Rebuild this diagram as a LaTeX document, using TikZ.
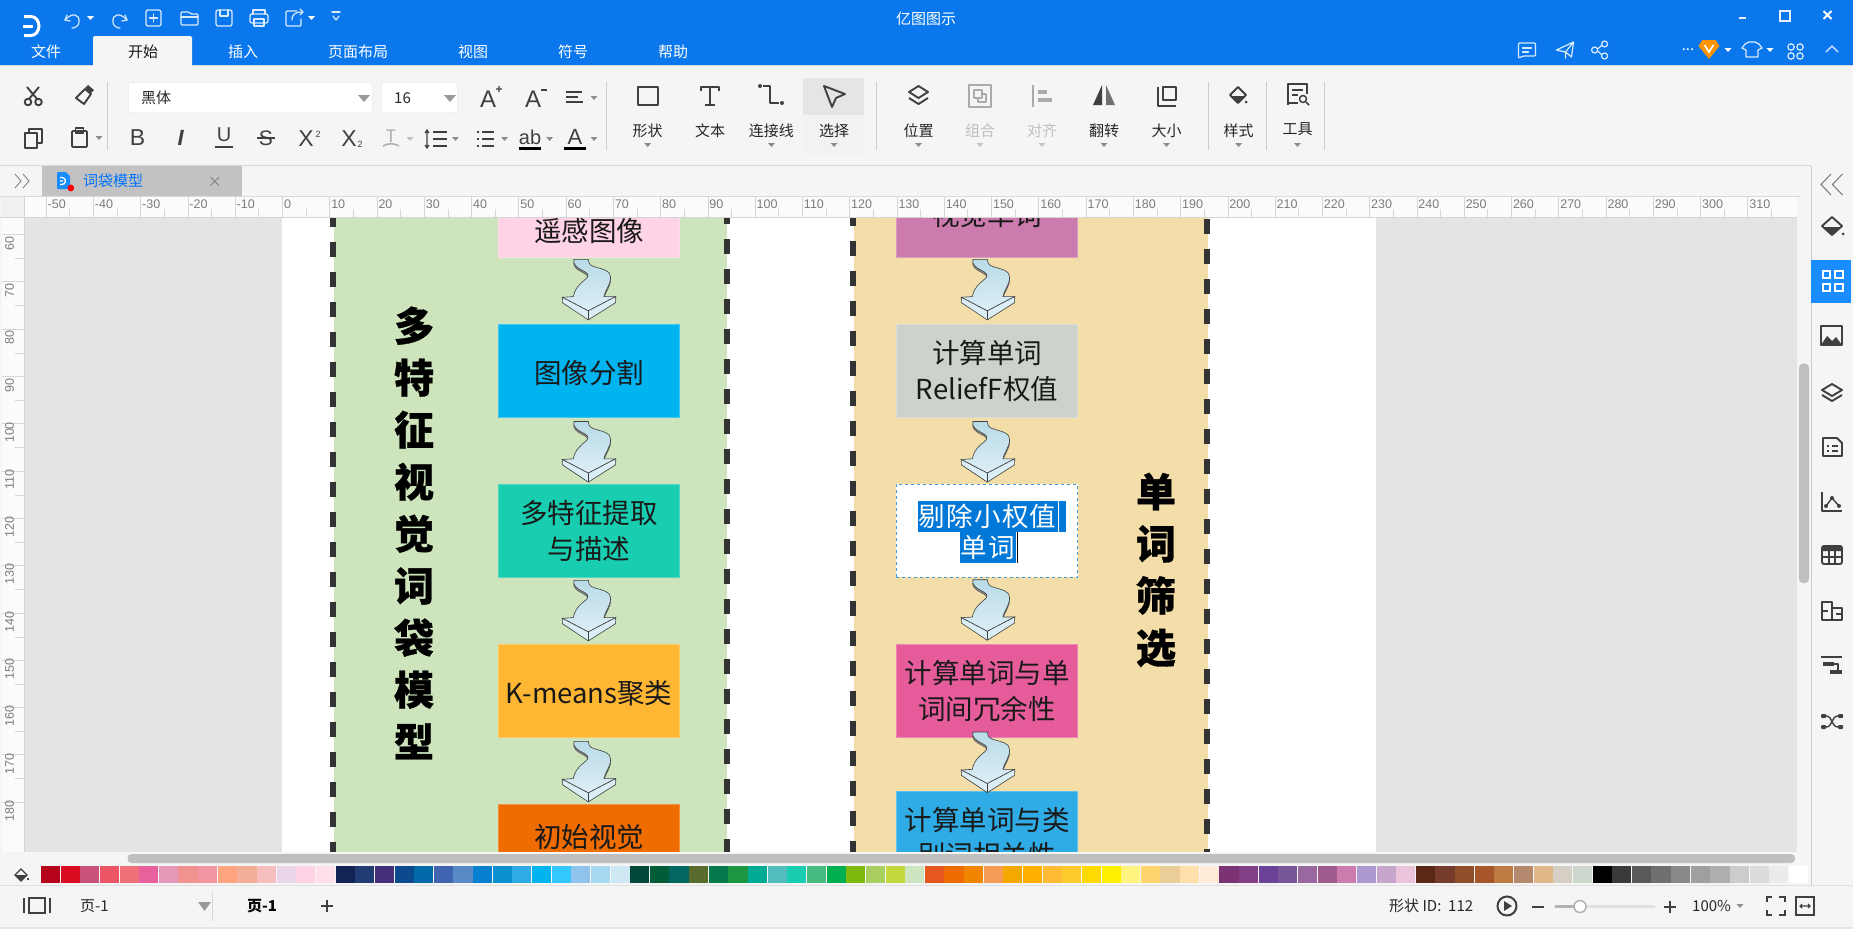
\documentclass[tikz,border=0pt]{standalone}
\usepackage{fontspec}
\usetikzlibrary{calc,shadings}
\setmainfont{Noto Sans CJK SC}
\newfontfamily\cjkspaced[LetterSpace=4.8]{Noto Sans CJK SC}
\newfontfamily\ttlfont[BoldFeatures={FakeBold=0.8}]{Noto Sans CJK SC}
\newfontfamily\uilatin{Liberation Sans}
\definecolor{blueb}{HTML}{0A78EC}
\definecolor{uibg}{HTML}{F5F5F5}
\definecolor{ico}{HTML}{404040}
\definecolor{icog}{HTML}{ABABAB}
\definecolor{rul}{HTML}{D5D5D5}
\definecolor{rulbg}{HTML}{FBFBFB}
\definecolor{rult}{HTML}{7C7C7C}
\definecolor{canvasg}{HTML}{E4E4E4}
\definecolor{bandg}{HTML}{CDE4BC}
\definecolor{bando}{HTML}{F3DEA9}
\definecolor{dashc}{HTML}{333333}
\definecolor{selblue}{HTML}{0078D7}
\definecolor{cpink}{HTML}{FFD3E6}
\definecolor{csky}{HTML}{00B4F0}
\definecolor{cteal}{HTML}{19CDB0}
\definecolor{camber}{HTML}{FFB733}
\definecolor{cdeepo}{HTML}{EF6C00}
\definecolor{cmauve}{HTML}{CC7BAE}
\definecolor{csage}{HTML}{CBD3CB}
\definecolor{crose}{HTML}{E65C9B}
\definecolor{ccyan}{HTML}{2FACE6}
\definecolor{arrtop}{HTML}{B8DBE7}
\definecolor{arrbot}{HTML}{DCEEF5}
\def\waveoutline{(-14.3,0) .. controls (-16,5) and (-11,8.5) .. (-6,11) .. controls (-2,13) and (1,15) .. (-1,18)
       .. controls (-4,22) and (-13,26) .. (-15,37.3) -- (-26,38) -- (0,51.6) -- (27.3,37.3) -- (15.6,37.3)
       .. controls (16.5,31) and (22.5,26) .. (22.3,17.3) .. controls (22,11) and (14,10) .. (8,8) .. controls (3,6.5) and (0.5,6) .. (0,0) -- cycle}
\tikzset{
  boxsty/.style={draw=#1!75!white,fill=#1,line width=.6pt,inner sep=0pt,minimum width=181.5pt,align=center,
     font=\fontsize{27.5}{35.4}\selectfont,text=black!90,execute at begin node={\rule{0pt}{26.8pt}}},
  bandline/.style={draw=dashc,line width=6pt,dash pattern=on 15pt off 15pt},
  ttl/.style={inner sep=0pt,align=center,font=\ttlfont\fontsize{40}{52}\selectfont\bfseries,text=black},
  uilbl/.style={inner sep=0pt,text=#1,font=\fontsize{15}{16}\selectfont},
  uilbl/.default=black!85,
  rtop/.style={inner sep=0pt,anchor=west,text=rult,font=\uilatin\fontsize{12.5}{13}\selectfont},
  rleft/.style={inner sep=0pt,rotate=90,text=rult,font=\uilatin\fontsize{12.5}{13}\selectfont},
  icon/.style={draw=ico,line width=1.9pt,line join=round},
  wicon/.style={draw=white!85!blueb,line width=1.2pt,line join=round,line cap=round},
  wavearrow/.pic={
    \begin{scope}[yshift=-2pt]
    \path[draw=black!70,line width=.5pt,fill=black!45] \waveoutline;
    \end{scope}
    \path[draw=black!75,line width=.6pt,top color=arrtop,bottom color=arrbot] \waveoutline;
    \path[draw=black!75,line width=.6pt,fill=arrbot] (-26,38) -- (-26,43.3) -- (0,60.6) -- (27.3,43.3) -- (27.3,37.3) -- (0,51.6) -- cycle;
    \draw[black!75,line width=.6pt] (0,51.6) -- (0,60.6);
  }
}
\newcommand{\carettri}[3][gray!90]{\fill[#1] (#2-3.5,#3-2) -- (#2+3.5,#3-2) -- (#2,#3+2) -- cycle;}
\newcount\palidx
\begin{document}
\begin{tikzpicture}[x=1pt,y=-1pt]
\useasboundingbox (0,0) rectangle (1853,929);
\fill[uibg] (0,0) rectangle (1853,929);
% canvas
\fill[canvasg] (24,217) rectangle (1797,852);
\begin{scope}
\clip (24,217) rectangle (1797,852);
\fill[white] (281.5,217) rectangle (1376,860);
\fill[bandg] (334,200) rectangle (727,860);
\fill[bando] (854,200) rectangle (1208,860);
\draw[bandline] (333.3,181.7) -- (333.3,870);
\draw[bandline] (726.7,179.3) -- (726.7,870);
\draw[bandline] (853,180.7) -- (853,870);
\draw[bandline] (1207,189) -- (1207,870);
\node[ttl] (leftttl) at (414,533) {多\\特\\征\\视\\觉\\词\\袋\\模\\型};
\node[ttl] (rightttl) at (1156,570) {单\\词\\筛\\选};
% left column
\node[boxsty={cpink},minimum height=56pt] (a1) at (589,229) {遥感图像};
\node[boxsty={csky},minimum height=93pt] (a2) at (589,371) {图像分割};
\node[boxsty={cteal},minimum height=93pt] (a3) at (589,531) {多特征提取\\与描述};
\node[boxsty={camber},minimum height=93pt] (a4) at (589,691) {K-means聚类};
\node[boxsty={cdeepo},minimum height=62pt] (a5) at (589,835.5) {初始视觉};
% right column
\node[boxsty={cmauve},minimum height=88pt] (b1) at (987,213) {视觉单词};
\node[boxsty={csage},minimum height=93pt] (b2) at (987,371) {计算单词\\ReliefF权值};
\node[draw=selblue!75!white,fill=white,dashed,line width=.8pt,inner sep=0pt,minimum width=181.5pt,minimum height=93pt] (b3) at (987,530.5) {};
\fill[selblue] (918,501) rectangle (1066,531.7);
\fill[selblue] (960,531.7) rectangle (1016,562.7);
\node[inner sep=0pt,text=white,font=\cjkspaced\fontsize{26.5}{35}\selectfont] (b3a) at (987.5,516.5) {剔除小权值};
\node[inner sep=0pt,text=white,font=\cjkspaced\fontsize{26.5}{35}\selectfont] (b3b) at (988,547.5) {单词};
\draw[white,line width=.8pt] (1058.3,501) -- (1058.3,531.7);
\draw[black,line width=.8pt] (1017.3,532) -- (1017.3,562.7);
\node[boxsty={crose},minimum height=93pt] (b4) at (987,690.8) {计算单词与单\\词间冗余性};
\node[boxsty={ccyan},minimum height=93pt] (b5) at (987,837.5) {计算单词与类\\别词相关性};
% block arrows
\pic at ($(a1.south)+(-.7,2)$) {wavearrow};
\pic at ($(a2.south)+(-.7,3.7)$) {wavearrow};
\pic at ($(a3.south)+(-.7,2.5)$) {wavearrow};
\pic at ($(a4.south)+(-.7,3.5)$) {wavearrow};
\pic at ($(b1.south)+(.3,2)$) {wavearrow};
\pic at ($(b2.south)+(.3,3.7)$) {wavearrow};
\pic at ($(b3.south)+(.3,2.3)$) {wavearrow};
\pic at ($(b4.south)+(.3,-5.6)$) {wavearrow};
\end{scope}
% ===== title bar =====
\fill[blueb] (0,0) rectangle (1853,65);
\fill[uibg,rounded corners=2pt] (93,67) -- (93,36) -- (192,36) -- (192,67) -- cycle;
\draw[black!15] (0,65.5) -- (93,65.5) (192,65.5) -- (1853,65.5);
\draw[white,line width=3pt] (24,16.5) -- (31,16.5) arc (-90:90:8 and 9.5) -- (24,35.5);
\draw[white,line width=3pt] (23,26) -- (33,26);
\node[uilbl=white] (apptitle) at (926,19) {亿图图示};
\foreach \lbl/\x in {文件/46,插入/243,页面布局/358,视图/473,符号/573,帮助/673}
  \node[uilbl=white] at (\x,52) {\lbl};
\node[uilbl=black!90] at (143,52) {开始};
% qat icons
\begin{scope}[wicon]
\draw (67,15) -- (65,20) -- (70,21); \draw (65,20) .. controls (72,12) and (80,14) .. (79,22) .. controls (79,26) and (75,28) .. (72,28);
\draw (125,15) -- (127,20) -- (122,21); \draw (127,20) .. controls (120,12) and (112,14) .. (113,22) .. controls (113,26) and (117,28) .. (120,28);
\draw[rounded corners=2pt] (146,10) rectangle (161,26); \draw (153.5,14) -- (153.5,22) (149.5,18) -- (157.5,18);
\draw[rounded corners=1pt] (181,12) -- (189,12) -- (191,14) -- (198,14) -- (198,25) -- (181,25) -- cycle; \draw (181,17) -- (198,17);
\draw[rounded corners=2pt] (216,10) rectangle (232,26); \draw (220,10) -- (220,16) -- (228,16) -- (228,10);
\draw[rounded corners=2pt] (253,14) -- (250,14) -- (250,23) -- (268,23) -- (268,14) -- cycle; \draw (253,14) -- (253,10) -- (265,10) -- (265,14); \draw (254,19) rectangle (264,26);
\draw[rounded corners=1pt] (297,11) -- (286,11) -- (286,26) -- (301,26) -- (301,19); \draw (292,20) .. controls (292,13) and (297,12) .. (303,12); \draw (300,9) -- (303,12) -- (300,15);
\draw (332,12) -- (340,12); \draw (333,16) -- (336,20) -- (339,16);
\end{scope}
\carettri[white]{90.5}{18}
\carettri[white]{311.5}{18}
% window controls
\draw[white!90!blueb,line width=2pt] (1738.5,18) -- (1745.5,18);
\draw[white!90!blueb,line width=1.4pt] (1780,11) rectangle (1790,21); \draw[white!90!blueb,line width=2pt] (1780,11) -- (1790,11);
\draw[white,line width=2pt] (1823.5,11) -- (1831.5,19) (1831.5,11) -- (1823.5,19);
% top-right icons
\begin{scope}[wicon,xshift=-3.6pt]
\draw[rounded corners=1pt] (1522,43) -- (1539,43) -- (1539,56) -- (1527,56) -- (1522,58) -- cycle; \draw (1526,48) -- (1535,48) (1526,52) -- (1532,52);
\end{scope}
\begin{scope}[wicon,xshift=-3.5pt]
\draw (1560,50) -- (1577,42) -- (1575,57) -- (1569,52) -- (1560,50) (1577,42) -- (1569,52) -- (1569,58);
\end{scope}
\begin{scope}[wicon,xshift=-4.4pt]
\draw (1599,50) circle (3); \draw (1609,44) circle (3); \draw (1609,56) circle (3); \draw (1602,49) -- (1606,45.5) (1602,51) -- (1606,54.5);
\end{scope}
\begin{scope}[wicon,xshift=-6pt]
\draw[line width=1.2pt] (1751,44) -- (1755,42) -- (1761,42) -- (1765,44) -- (1768,48) -- (1764,50) -- (1764,57) -- (1752,57) -- (1752,50) -- (1748,48) -- cycle;
\draw (1797,47) circle (3.2); \draw (1806,47) circle (3.2); \draw (1797,56) circle (3.2); \draw (1806,56) circle (3.2);
\draw (1832,52) -- (1838,46) -- (1844,52);
\end{scope}
\node[uilbl=white] at (1688,50) {...};
\begin{scope}[xshift=-5.5pt]
\fill[orange!85!yellow] (1704,46) -- (1708,40) -- (1721,40) -- (1725,46) -- (1714.5,59) -- cycle;
\draw[white,line width=1.6pt] (1710,45) -- (1714.5,52) -- (1719,45);
\end{scope}
\carettri[white]{1728}{50}
\carettri[white]{1770}{50}
% ===== ribbon =====
\draw[black!15] (0,165.5) -- (1811,165.5);
\foreach \x in {107.5,606,876,1208,1266.6,1324.4} \draw[black!20] (\x,82) -- (\x,150);
\begin{scope}[icon]
% scissors
\draw (27,87) -- (37,99) (39,87) -- (29,99); \draw (28,102) circle (3.3); \draw (38.5,102) circle (3.3);
% brush
\fill[ico] (88,85) -- (94,90) -- (91,93) -- (85,88) -- cycle; \draw (85,89) -- (91,94) -- (84,104) -- (76,98) -- cycle;
% copy
\draw (25,133) rectangle (37,148); \draw (29,133) -- (29,129) -- (42,129) -- (42,143) -- (37,143);
% paste
\draw[rounded corners=1pt] (72,131) rectangle (87,147); \draw (75.5,128) rectangle (83.5,133);
\end{scope}
\carettri{99}{138}
\node[draw=black!12,fill=white,rounded corners=2pt,minimum width=244pt,minimum height=30pt,inner sep=0pt] (fontcb) at (250.5,97.7) {};
\node[uilbl,anchor=west] (fontnm) at (141,98) {黑体};
\fill[gray!80] (358,95) -- (370,95) -- (364,102) -- cycle;
\node[draw=black!12,fill=white,rounded corners=2pt,minimum width=76pt,minimum height=30pt,inner sep=0pt] (sizecb) at (419.5,97.7) {};
\node[uilbl,anchor=west] (sizenm) at (394,98) {16};
\fill[gray!80] (444,95) -- (456,95) -- (450,102) -- cycle;
\node[inner sep=0pt,text=ico,font=\uilatin\fontsize{24}{24}\selectfont] at (488,99) {A};
\node[inner sep=0pt,text=ico,font=\uilatin\bfseries\fontsize{12}{12}\selectfont] at (499,90) {+};
\node[inner sep=0pt,text=ico,font=\uilatin\fontsize{24}{24}\selectfont] at (533,99) {A};
\draw[ico,line width=1.5pt] (541,90) -- (547,90);
\draw[ico,line width=1.9pt] (566,92) -- (582,92) (566,97) -- (578,97) (566,102) -- (583,102);
\carettri{594}{98}
% row 2
\node[inner sep=0pt,text=ico,font=\uilatin\fontsize{23}{23}\selectfont] at (137.6,138) {B};
\node[inner sep=0pt,text=ico,font=\uilatin\itshape\bfseries\fontsize{22}{22}\selectfont] at (180.7,138) {I};
\node[inner sep=0pt,text=ico,font=\uilatin\fontsize{20}{20}\selectfont] at (224,135) {U};
\draw[ico,line width=1.6pt] (215,147) -- (233,147);
\node[inner sep=0pt,text=ico,font=\uilatin\fontsize{21}{21}\selectfont] at (266,138) {S};
\draw[ico,line width=1.4pt] (257,138) -- (275,138);
\node[inner sep=0pt,text=ico,font=\uilatin\fontsize{23}{23}\selectfont] at (306,139) {X};
\node[inner sep=0pt,text=ico,font=\uilatin\fontsize{9}{9}\selectfont] at (318,134) {2};
\node[inner sep=0pt,text=ico,font=\uilatin\fontsize{23}{23}\selectfont] at (349,139) {X};
\node[inner sep=0pt,text=ico,font=\uilatin\fontsize{9}{9}\selectfont] at (360,144) {2};
\node[inner sep=0pt,text=icog,font=\fontsize{17}{17}\selectfont] at (391,136) {T};
\draw[icog,line width=1.5pt] (383,146) .. controls (388,143) and (394,143) .. (399,146);
\carettri[gray!50]{410}{139}
\draw[ico,line width=1.9pt] (433,132) -- (447,132) (433,139) -- (447,139) (433,146) -- (447,146);
\draw[ico,line width=1.2pt] (427,131) -- (427,147) (425,133) -- (427,130) -- (429,133) (425,145) -- (427,148) -- (429,145);
\carettri{455.5}{139}
\foreach \yy in {132,139,146} {\draw[ico,line width=1.9pt] (477,\yy) -- (479,\yy) (482,\yy) -- (494,\yy);}
\carettri{504.5}{139}
\node[inner sep=0pt,text=ico,font=\uilatin\fontsize{20}{20}\selectfont] at (530,137) {ab};
\fill[black] (519,146.5) rectangle (541,150);
\carettri{549.6}{139}
\node[inner sep=0pt,text=ico,font=\uilatin\fontsize{22}{22}\selectfont] at (575,137) {A};
\fill[black] (564,146.5) rectangle (586,150);
\carettri{594}{139}
% big buttons
\fill[black!10,rounded corners=2pt] (803,120) -- (803,78) -- (864,78) -- (864,120) -- cycle;
\fill[black!5,rounded corners=2pt] (803,115) -- (803,154) -- (864,154) -- (864,115) -- cycle;
\foreach \lbl/\x in {形状/647.7,文本/710,连接线/771.4,选择/834,位置/918.5,翻转/1104,大小/1166.5,样式/1238.6}
  \node[uilbl] at (\x,131) {\lbl};
\node[uilbl] at (1297.5,129) {工具};
\node[uilbl=black!25] at (980,131) {组合};
\node[uilbl=black!25] at (1042,131) {对齐};
\foreach \x in {647.7,771.4,834,918.5,1104,1166.5,1238.6,1297.5} {\carettri{\x}{145}}
\foreach \x in {980,1042} {\carettri[gray!45]{\x}{145}}
\begin{scope}[icon]
\draw (638,87) rectangle (658,105);
\draw (701,91) -- (701,87) -- (719,87) -- (719,91) (710,87) -- (710,105) (705,105) -- (715,105);
\fill[ico,draw=none] (760,86) circle (2); \fill[ico,draw=none] (782,103) circle (2);
\draw[line width=1.6pt] (763,86) -- (770,86) -- (770,103) -- (779,103);
\draw (824,86) -- (845,94) -- (836,98) -- (832,107) -- cycle;
\draw (918.5,86) -- (928,92) -- (918.5,98) -- (909,92) -- cycle; \draw (909,98) -- (918.5,104) -- (928,98);
\draw[icog,line width=1.2pt] (969,85) rectangle (991,107); \draw[icog] (974,90) rectangle (982,98); \draw[icog] (978,98) -- (978,102) -- (986,102) -- (986,94) -- (982,94);
\draw[icog,line width=2pt] (1033,85) -- (1033,107); \fill[icog,draw=none] (1038,90) rectangle (1047,94); \fill[icog,draw=none] (1038,98) rectangle (1052,102);
\fill[ico,draw=none] (1093,105) -- (1102,85) -- (1102,105) -- cycle; \fill[ico!75,draw=none] (1115,105) -- (1106,85) -- (1106,105) -- cycle;
\draw (1158,87) -- (1158,106) -- (1176,106); \draw (1163,87) rectangle (1176,100);
\draw (1238,87) -- (1246,95) -- (1238,103) -- (1230,95) -- cycle; \fill[ico,draw=none] (1231,96) -- (1238,103) -- (1245,96) -- cycle;
\draw (1288,105) -- (1288,84) -- (1307,84) -- (1307,94); \draw (1288,103) -- (1298,103); \draw[line width=1.4pt] (1292,90) -- (1303,90) (1292,95) -- (1298,95); \draw[line width=1.5pt] (1303,99) circle (3.5); \draw[line width=1.5pt] (1306,102) -- (1309,105);
\end{scope}
\fill[ico] (1246,102) circle (1.5);
% ===== tab row =====
\fill[black!24] (42,166) rectangle (241.6,196);
\draw[black!15] (0,196) -- (1800,196);
\draw[gray,line width=.9pt] (15,174) -- (21,181) -- (15,188) (23,174) -- (29,181) -- (23,188);
\fill[blue!50!cyan!90!white,rounded corners=1pt] (57,172) -- (66,172) -- (70,176) -- (70,189) -- (57,189) -- cycle;
\draw[white,line width=1.3pt] (60,177.5) -- (62,177.5) arc (-90:90:3.5) -- (60,184.5) (60,181) -- (63,181);
\fill[red] (70.8,188) circle (3.4);
\node[uilbl=blue!55!cyan,anchor=west] (doctab) at (83,181) {词袋模型};
\draw[gray,line width=.9pt] (210.5,177) -- (219,185.5) (219,177) -- (210.5,185.5);
% ===== rulers =====
\fill[rulbg] (24,197) rectangle (1797,217);
\fill[black!6] (2,197) rectangle (24,217);
\draw[rul] (0,217.3) -- (1797,217.3) (24,197) -- (24,852);
\foreach \n in {-5,...,31} {
  \pgfmathsetmacro{\xx}{282.3+47.27*\n}
  \pgfmathtruncatemacro{\lab}{\n*10}
  \draw[rul] (\xx,197) -- (\xx,217);
  \draw[rul] (\xx+23.6,209) -- (\xx+23.6,217);
  \node[rtop] at (\xx+1.5,204) {\lab};
}
\fill[rulbg] (2,217.5) rectangle (23.7,852);
\foreach \n in {6,...,18} {
  \pgfmathsetmacro{\yy}{234.3+47.3*(\n-6)}
  \pgfmathtruncatemacro{\lab}{\n*10}
  \draw[rul] (2,\yy) -- (23.7,\yy);
  \ifnum\n<18 \draw[rul] (15,\yy+24) -- (23.7,\yy+24); \fi
  \node[rleft] at (9.5,\yy+9) {\lab};
}
\fill[uibg] (0,852) rectangle (1811,866);
% scrollbars
\fill[black!25,rounded corners=4pt] (127.5,854) rectangle (1795,863);
\fill[uibg] (1797,197) rectangle (1811,852);
\fill[black!25,rounded corners=4pt] (1799,363.6) rectangle (1809,583);
% ===== palette =====
\draw[ico,line width=1.3pt] (21,869) -- (27,875) -- (21,881) -- (15,875) -- cycle; \fill[ico] (15,875) -- (21,881) -- (27,875) -- cycle; \fill[ico] (28,879) circle (1.3);
\palidx=0
\foreach \c in {B5041A,D80B20,C8527C,EC5565,F07178,E8619D,E599B8,F29290,F495A2,FFA47F,F4AD97,F7BEBE,E8D5E8,FFD3E6,FFE0EA,122456,213B73,432F7A,0B4A8E,0369A8,4064B0,5A89C8,0880D0,0A90D0,2FACE6,00B4F0,33C7FB,90C4EC,A6D9F0,CEE9F4,024838,015C37,036761,5A6B2E,04794C,1D9641,00AB94,53BDC0,19CDB0,48BC80,00AF50,80B90E,A8CF60,C2D83C,CDE5C0,E6561F,EF6C00,F28500,F59D56,F4A800,FFB000,FFBB33,FDCB2E,FFD900,FFF000,FFF480,FFD56E,EBCD97,FFDFAA,FFEBD7,7B3374,833F86,6A4398,765598,9A68A0,A15C8F,CC7BAE,AC99D0,C6A7CB,EBC4DC,5A2817,753B2B,8F4F2B,A65629,BD7B41,B4896D,E0B888,D6CFC6,CDD6CC,000000,3B3838,595959,6F6F6F,898989,9F9F9F,AFAFAF,CBCDCC,DCDCDC,EBEBEB,FFFFFF} {
  \definecolor{swatch}{HTML}{\c}
  \fill[swatch] ({41+19.64*\the\palidx},866) rectangle ({41+19.64*\the\palidx+19.1},883);
  \global\advance\palidx by 1
}
% ===== status bar =====
\draw[black!12] (0,885.5) -- (1853,885.5);
\draw[black!10,line width=1.5pt] (0,928) -- (1853,928);
\draw[ico,line width=1.8pt] (29,898) rectangle (45,913);
\draw[ico,line width=1.2pt] (24,898) -- (24,913) (50,898) -- (50,913);
\node[uilbl,anchor=west] (pg1) at (80,906) {页-1};
\fill[gray!80] (198,902) -- (211,902) -- (204.5,911) -- cycle;
\draw[black!15] (212,891) -- (212,921);
\node[uilbl=black,anchor=west,font=\fontsize{15}{16}\selectfont\bfseries] (pg2) at (247,906) {页-1};
\draw[ico,line width=2pt] (321,906) -- (333,906) (327,900) -- (327,912);
\node[uilbl,anchor=west] (shapeid) at (1389,906) {形状 ID:\ \ 112};
\draw[ico,line width=2pt] (1507,906) circle (9.5); \fill[ico] (1504,901) -- (1512,906) -- (1504,911) -- cycle;
\draw[ico,line width=2pt] (1532,906.5) -- (1544,906.5);
\draw[black!12,line width=3.5pt,line cap=round] (1556,906.5) -- (1654,906.5);
\draw[black!30,line width=3.5pt,line cap=round] (1556,906.5) -- (1580,906.5);
\draw[black!30,fill=white,line width=1.5pt] (1580,906.5) circle (6);
\draw[ico,line width=2pt] (1664,906.5) -- (1676,906.5) (1670,900.5) -- (1670,912.5);
\node[uilbl,anchor=west] (zoomv) at (1692,906) {100\%};
\carettri{1740}{906}
\draw[ico,line width=1.7pt] (1767,902) -- (1767,897) -- (1772,897) (1779,897) -- (1785,897) -- (1785,902) (1785,910) -- (1785,915) -- (1779,915) (1772,915) -- (1767,915) -- (1767,910);
\draw[ico,line width=1.7pt] (1796,897) rectangle (1814,915);
\draw[ico,line width=1.1pt] (1800,906) -- (1810,906) (1802,904) -- (1800,906) -- (1802,908) (1808,904) -- (1810,906) -- (1808,908);
% ===== right panel =====
\draw[black!20] (1810.7,166) -- (1810.7,885);
\draw[gray,line width=1.1pt] (1831,174) -- (1821,184.5) -- (1831,195) (1842.5,174) -- (1832.5,184.5) -- (1842.5,195);
\fill[blue!50!cyan!90!white] (1811,260) rectangle (1851,303);
\draw[white,line width=2pt] (1823,271) rectangle (1830,278) (1835,271) rectangle (1843,278) (1823,284) rectangle (1830,291) (1835,284) rectangle (1843,291);
\begin{scope}[icon]
\draw (1832,217) -- (1842,226) -- (1832,235) -- (1822,226) -- cycle; \fill[ico,draw=none] (1823,227) -- (1832,235) -- (1841,227) -- cycle; \fill[ico,draw=none] (1843,234) circle (1.5);
\draw (1821,326) rectangle (1842,345); \fill[ico,draw=none] (1821,345) -- (1827,336) -- (1832,341) -- (1836,337) -- (1842,345) -- cycle;
\draw (1832,384) -- (1842,390) -- (1832,396) -- (1822,390) -- cycle; \draw (1822,395) -- (1832,401) -- (1842,395);
\draw (1823,438) -- (1837,438) -- (1842,443) -- (1842,456) -- (1823,456) -- cycle; \draw[line width=1.4pt] (1827,446) -- (1829,446) (1832,446) -- (1838,446) (1827,451) -- (1829,451) (1832,451) -- (1838,451);
\draw (1822,492) -- (1822,511) -- (1842,511); \draw[line width=1.4pt] (1826,506) -- (1832,498) -- (1839,506); \fill[ico,draw=none] (1826,506) circle (2) (1832,498) circle (2) (1839,506) circle (2);
\draw[rounded corners=2pt] (1822,546) rectangle (1842,564); \fill[ico,draw=none,rounded corners=1pt] (1822,546) rectangle (1842,551); \draw[line width=1.2pt] (1822,557) -- (1842,557) (1829,551) -- (1829,564) (1835,551) -- (1835,564);
\draw (1822,602) -- (1832,602) -- (1832,608) -- (1842,608) -- (1842,620) -- (1822,620) -- cycle; \draw[line width=1.3pt] (1832,608) -- (1832,620) (1822,611) -- (1828,611) (1836,614) -- (1842,614);
\draw (1821,657) -- (1842,657); \fill[ico,draw=none] (1823,662) rectangle (1834,666); \draw[line width=1.3pt] (1834,664) -- (1838,664) -- (1838,670); \fill[ico,draw=none] (1830,670) rectangle (1842,674);
\fill[ico,draw=none,rounded corners=1pt] (1821,714) rectangle (1826,718) (1821,725) rectangle (1826,729) (1838,714) rectangle (1843,718) (1838,725) rectangle (1843,729);
\draw[line width=1.4pt] (1826,716) .. controls (1833,716) and (1831,727) .. (1838,727) (1826,727) .. controls (1833,727) and (1831,716) .. (1838,716);
\end{scope}
\end{tikzpicture}
\end{document}
